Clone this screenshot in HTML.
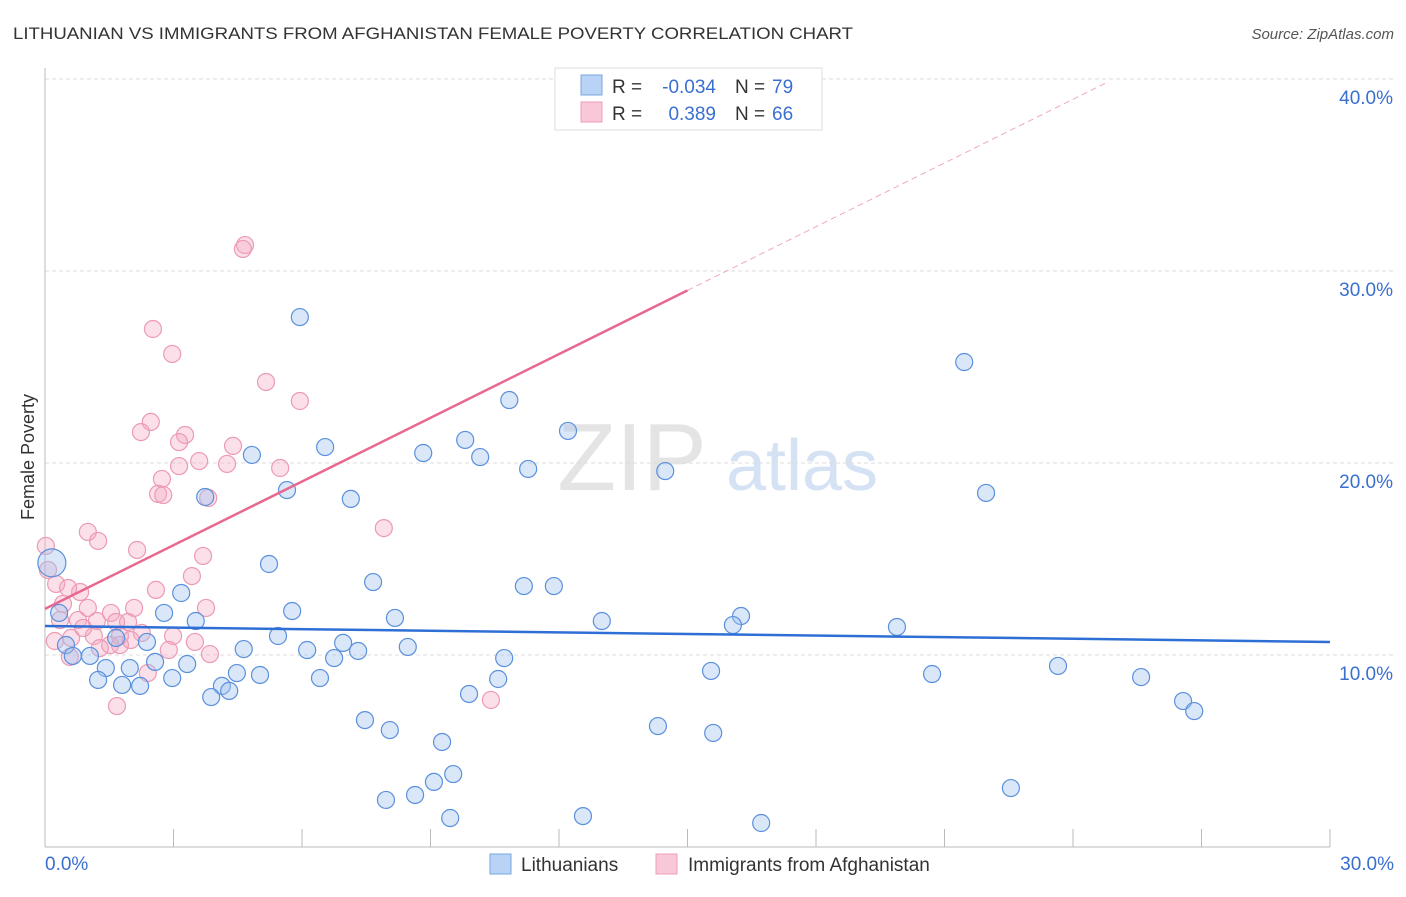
<!DOCTYPE html>
<html><head><meta charset="utf-8"><style>
body{margin:0;background:#fff;font-family:"Liberation Sans",sans-serif;}
svg text{font-family:"Liberation Sans",sans-serif;}
</style></head><body>
<svg id="chart" width="1406" height="892" viewBox="0 0 1406 892" xmlns="http://www.w3.org/2000/svg">
<text x="13" y="39" font-size="17" fill="#333" textLength="840" lengthAdjust="spacingAndGlyphs">LITHUANIAN VS IMMIGRANTS FROM AFGHANISTAN FEMALE POVERTY CORRELATION CHART</text>
<text x="1394" y="39" font-size="15" fill="#555" font-style="italic" text-anchor="end">Source: ZipAtlas.com</text>
<g>
<text x="632" y="490" font-size="96" fill="#e4e4e4" font-family="Liberation Serif,serif" text-anchor="middle">ZIP</text>
<text x="802" y="490" font-size="72" fill="#d4e2f4" text-anchor="middle">atlas</text>
</g>
<g id="grid"></g>
<g id="axes"></g>
<g id="points"></g>
<g id="trends"></g>
<text x="34" y="457" font-size="18" fill="#333" text-anchor="middle" transform="rotate(-90 34 457)">Female Poverty</text>
<g>
<rect x="555" y="68" width="267" height="62" fill="#fff" stroke="#ddd"/>
<rect x="581" y="75" width="21" height="20" fill="#b8d3f5" stroke="#7aa7e0"/>
<rect x="581" y="102" width="21" height="20" fill="#f9c8d8" stroke="#ee9db8"/>
<text x="612" y="93" font-size="19" fill="#333">R =</text>
<text x="716" y="93" font-size="19" fill="#3a6fd0" text-anchor="end">-0.034</text>
<text x="735" y="93" font-size="19" fill="#333">N =</text>
<text x="772" y="93" font-size="19" fill="#3a6fd0">79</text>
<text x="612" y="120" font-size="19" fill="#333">R =</text>
<text x="716" y="120" font-size="19" fill="#3a6fd0" text-anchor="end">0.389</text>
<text x="735" y="120" font-size="19" fill="#333">N =</text>
<text x="772" y="120" font-size="19" fill="#3a6fd0">66</text>
</g>
<g>
<rect x="490" y="854" width="21" height="20" fill="#b8d3f5" stroke="#7aa7e0"/>
<text x="521" y="871" font-size="19" fill="#333">Lithuanians</text>
<rect x="656" y="854" width="21" height="20" fill="#f9c8d8" stroke="#ee9db8"/>
<text x="688" y="871" font-size="19" fill="#333">Immigrants from Afghanistan</text>
</g>
</svg>
<script>
const yTicks=[10,20,30,40];
const yTickLabels=["10.0%","20.0%","30.0%","40.0%"];
const xTicks=[0,3,6,9,12,15,18,21,24,27,30];
const xTickLabels=["0.0%","30.0%"];
const blueX=[5.95,21.46,4.83,6.54,8.83,9.81,10.16,10.84,12.21,11.28,14.48,21.97,5.65,3.74,7.14,5.23,7.66,11.18,11.88,3.18,5.77,2.78,3.52,8.17,13.0,16.25,16.06,19.89,0.33,5.44,6.96,6.12,4.64,7.31,8.47,1.66,2.38,0.49,0.65,1.05,1.42,1.98,2.57,3.32,4.48,5.02,6.75,10.72,1.24,1.80,2.22,2.97,4.13,3.88,4.30,6.42,10.58,9.90,15.55,20.71,23.65,25.59,26.57,26.83,7.47,8.05,14.31,15.6,9.27,9.53,9.08,8.64,7.96,22.55,9.46,12.56,16.72,0.16];
const blueY=[27.6,25.26,20.42,20.83,20.52,21.2,20.31,23.28,21.67,19.69,19.58,18.44,18.59,18.23,18.13,14.74,13.8,13.59,13.59,13.23,12.29,12.19,11.77,11.93,11.77,12.03,11.56,11.46,12.19,10.99,10.63,10.26,10.31,10.21,10.42,10.89,10.68,10.52,9.95,9.95,9.32,9.32,9.64,9.53,9.06,8.96,9.84,9.84,8.7,8.44,8.39,8.8,8.39,7.81,8.13,8.8,8.75,7.97,9.17,9.01,9.43,8.85,7.6,7.08,6.61,6.09,6.3,5.94,5.47,3.8,3.39,2.71,2.45,3.07,1.51,1.61,1.25,14.8];
const blueR=[8.5,8.5,8.5,8.5,8.5,8.5,8.5,8.5,8.5,8.5,8.5,8.5,8.5,8.5,8.5,8.5,8.5,8.5,8.5,8.5,8.5,8.5,8.5,8.5,8.5,8.5,8.5,8.5,8.5,8.5,8.5,8.5,8.5,8.5,8.5,8.5,8.5,8.5,8.5,8.5,8.5,8.5,8.5,8.5,8.5,8.5,8.5,8.5,8.5,8.5,8.5,8.5,8.5,8.5,8.5,8.5,8.5,8.5,8.5,8.5,8.5,8.5,8.5,8.5,8.5,8.5,8.5,8.5,8.5,8.5,8.5,8.5,8.5,8.5,8.5,8.5,8.5,14];
const pinkX=[4.67,4.62,2.52,2.97,5.16,5.95,2.47,2.24,3.27,3.13,4.39,3.60,3.13,4.25,5.49,2.73,2.64,2.76,3.81,7.91,1.0,1.24,0.02,2.15,3.69,0.07,3.43,0.26,2.59,0.82,0.42,3.76,2.08,1.54,0.77,1.21,1.66,1.94,2.26,1.75,1.14,0.61,0.23,2.99,1.52,1.75,2.89,3.50,3.85,0.58,2.40,1.68,10.41,0.54,0.89,1.28,0.35,1.0,2.0];
const pinkY=[31.35,31.15,26.98,25.68,24.22,23.23,22.14,21.61,21.46,21.09,20.89,20.1,19.84,19.95,19.74,19.17,18.39,18.33,18.18,16.61,16.41,15.94,15.68,15.47,15.16,14.43,14.11,13.7,13.39,13.28,12.66,12.45,12.45,12.19,11.82,11.77,11.72,11.72,11.15,10.99,10.99,10.89,10.73,10.99,10.52,10.52,10.26,10.68,10.05,9.9,9.06,7.34,7.66,13.49,11.41,10.36,11.82,12.45,10.78];
const blueTrend=[11.51,10.68];
const pinkTrend=[12.4,1.106];
const NS='http://www.w3.org/2000/svg';
const X0=45,X1=1330,Y0=847,Y40=79;
const sx=v=>X0+(X1-X0)*v/30;
const sy=v=>Y0-(Y0-Y40)*v/40;
function mk(tag,attrs,parent){const e=document.createElementNS(NS,tag);for(const k in attrs)e.setAttribute(k,attrs[k]);parent.appendChild(e);return e;}
const grid=document.getElementById('grid'),axes=document.getElementById('axes'),pts=document.getElementById('points'),tr=document.getElementById('trends');
yTicks.forEach((t,i)=>{
  const l=mk('line',{x1:X0,x2:1394,y1:sy(t),y2:sy(t),stroke:'#ddd','stroke-dasharray':'4 3'},grid);
  
  
  const tx=mk('text',{x:1393,y:sy(t)+25,'font-size':19,fill:'#3a6fd0','text-anchor':'end'},axes);
  tx.textContent=yTickLabels[i];
  
  
});
let a=mk('line',{x1:X0,x2:X0,y1:68,y2:Y0,stroke:'#bbb'},axes);


a=mk('line',{x1:X0,x2:X1,y1:Y0,y2:Y0,stroke:'#bbb'},axes);


xTicks.forEach(t=>{
  const l=mk('line',{x1:sx(t),x2:sx(t),y1:829,y2:Y0,stroke:'#bbb'},axes);
  
  
});
let xl=mk('text',{x:45,y:870,'font-size':19,fill:'#3a6fd0'},axes);xl.textContent=xTickLabels[0];


xl=mk('text',{x:1394,y:870,'font-size':19,fill:'#3a6fd0','text-anchor':'end'},axes);xl.textContent=xTickLabels[1];


pinkX.forEach((v,i)=>{
  const c=mk('circle',{cx:sx(v),cy:sy(pinkY[i]),r:8.5,fill:'rgba(244,165,192,0.35)',stroke:'#ec9ab5','stroke-width':1.2},pts);
  
  
});
blueX.forEach((v,i)=>{
  const c=mk('circle',{cx:sx(v),cy:sy(blueY[i]),r:blueR[i],fill:'rgba(160,196,240,0.4)',stroke:'#5b90dc','stroke-width':1.2},pts);
  
  
});
let t=mk('line',{x1:sx(0),y1:sy(blueTrend[0]),x2:sx(30),y2:sy(blueTrend[1]),stroke:'#2e6fd6','stroke-width':2.5},tr);


t=mk('line',{x1:sx(0),y1:sy(pinkTrend[0]),x2:sx(15),y2:sy(pinkTrend[0]+pinkTrend[1]*15),stroke:'#e8688f','stroke-width':2.5},tr);


t=mk('line',{x1:sx(15),y1:sy(pinkTrend[0]+pinkTrend[1]*15),x2:sx(24.75),y2:sy(pinkTrend[0]+pinkTrend[1]*24.75),stroke:'#f0a8be','stroke-width':1,'stroke-dasharray':'6 4'},tr);


</script>
</body></html>
